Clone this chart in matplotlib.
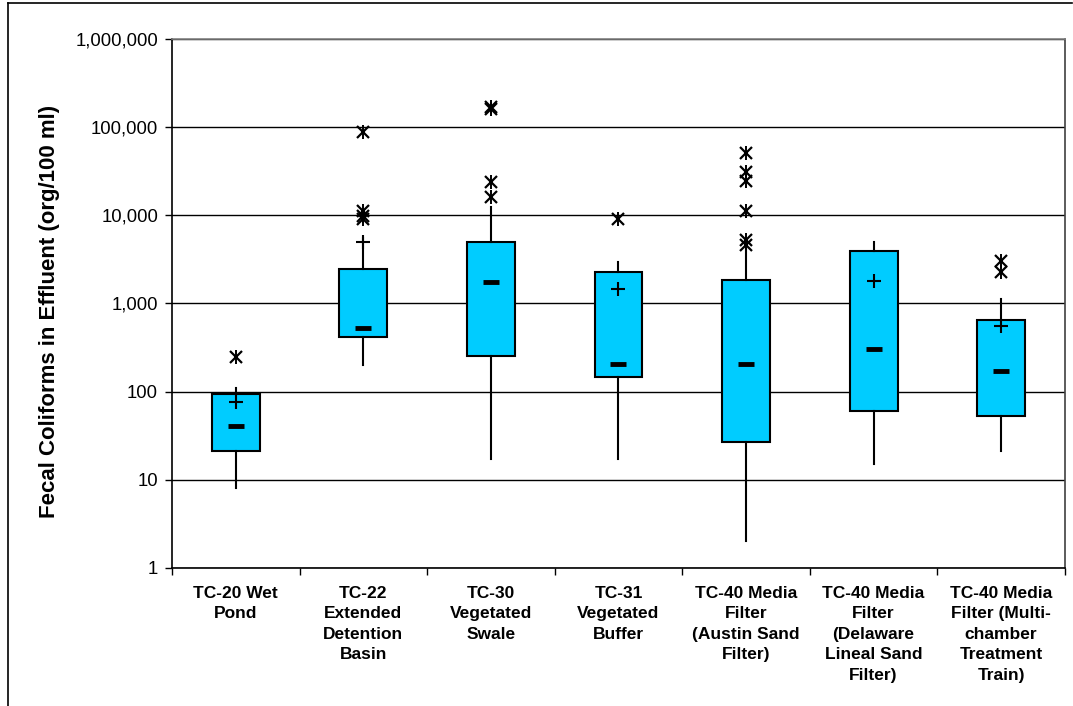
import numpy as np
import matplotlib
matplotlib.use("Agg")
import matplotlib.pyplot as plt
from matplotlib.lines import Line2D
from matplotlib.ticker import FixedLocator, FuncFormatter

plt.rcParams['font.family'] = ['Liberation Sans', 'DejaVu Sans']

# Data
categories = [
    "TC-20 Wet\nPond",
    "TC-22\nExtended\nDetention\nBasin",
    "TC-30\nVegetated\nSwale",
    "TC-31\nVegetated\nBuffer",
    "TC-40 Media\nFilter\n(Austin Sand\nFilter)",
    "TC-40 Media\nFilter\n(Delaware\nLineal Sand\nFilter)",
    "TC-40 Media\nFilter (Multi-\nchamber\nTreatment\nTrain)",
]
q1 = [21, 417, 254, 147, 27, 60, 53]
q3 = [94, 2460, 4980, 2275, 1850, 3940, 650]
medians = [41, 527, 1750, 206, 206, 305, 171]
whisker_low = [8, 200, 17, 17, 2, 15, 21]
whisker_high = [110, 5500, 12400, 2950, 4600, 4980, 1125]
means = [76, 5000, np.nan, 1460, np.nan, 1800, 555]
outliers = [
    [247],
    [9100, 9700, 11200, 88000],
    [16100, 23900, 160000, 170000],
    [9100],
    [4600, 5250, 11200, 24500, 31000, 51000],
    [],
    [2275, 3030],
]

fig = plt.figure(figsize=(10.73, 7.06), dpi=100)
ax = fig.add_axes([0.1603, 0.1955, 0.8322, 0.7493])

positions = np.arange(1, len(categories) + 1)
stats = []
for i in range(len(categories)):
    stats.append({
        "med": medians[i], "q1": q1[i], "q3": q3[i],
        "whislo": whisker_low[i], "whishi": whisker_high[i],
        "fliers": [],
    })

ax.bxp(stats, positions=positions, widths=0.375, patch_artist=True,
       showcaps=False, showfliers=False,
       boxprops=dict(facecolor="#00CCFF", edgecolor="black", linewidth=1.5),
       whiskerprops=dict(color="black", linewidth=1.5),
       medianprops=dict(visible=False), zorder=3)

# median dash, mean plus, outlier stars (x with a vertical bar)
ax.plot(positions, medians, linestyle="none", marker="_", markersize=12,
        markeredgewidth=3.5, color="black", zorder=5)
ax.plot(positions, means, linestyle="none", marker="+", markersize=10,
        markeredgewidth=1.5, color="black", zorder=5)
for p, vals in zip(positions, outliers):
    ax.plot([p] * len(vals), vals, linestyle="none", marker="x",
            markersize=9, markeredgewidth=1.6, color="black", zorder=5)
    ax.plot([p] * len(vals), vals, linestyle="none", marker="|",
            markersize=10, markeredgewidth=1.4, color="black", zorder=5)

ax.set_yscale("log")
ax.set_ylim(1, 1e6)
ax.set_xlim(0.5, len(categories) + 0.5)
ax.yaxis.set_major_locator(FixedLocator([10 ** k for k in range(7)]))
ax.yaxis.set_minor_locator(FixedLocator([]))
ax.yaxis.set_major_formatter(FuncFormatter(lambda v, _: f"{int(round(v)):,}"))
ax.yaxis.grid(True, color="black", linewidth=1)
ax.set_axisbelow(True)

ax.set_xticks(positions)
ax.set_xticklabels(categories, fontsize=12.5, fontweight="bold", linespacing=1.45)
ax.xaxis.set_minor_locator(FixedLocator(np.arange(0.5, len(categories) + 1)))
ax.tick_params(axis="x", which="major", length=0, pad=13)
ax.tick_params(axis="x", which="minor", length=5, direction="out", width=1)
ax.tick_params(axis="y", which="major", length=5, direction="out", width=1,
               labelsize=13.3, pad=5)

ax.set_ylabel("Fecal Coliforms in Effluent (org/100 ml)", fontsize=16,
              fontweight="bold", labelpad=11, y=0.485)

ax.spines["left"].set_color("black")
ax.spines["bottom"].set_color("black")
ax.spines["top"].set_color("#808080")
ax.spines["right"].set_color("#404040")
for s in ax.spines.values():
    s.set_linewidth(1.2)

# outer chart border
fig.add_artist(Line2D([8 / 1073, 1072 / 1073], [1 - 3 / 706, 1 - 3 / 706],
                      color="black", linewidth=1.2))
fig.add_artist(Line2D([8 / 1073, 8 / 1073], [0, 1 - 3 / 706],
                      color="black", linewidth=1.2))

fig.savefig("out.png", dpi=100)
